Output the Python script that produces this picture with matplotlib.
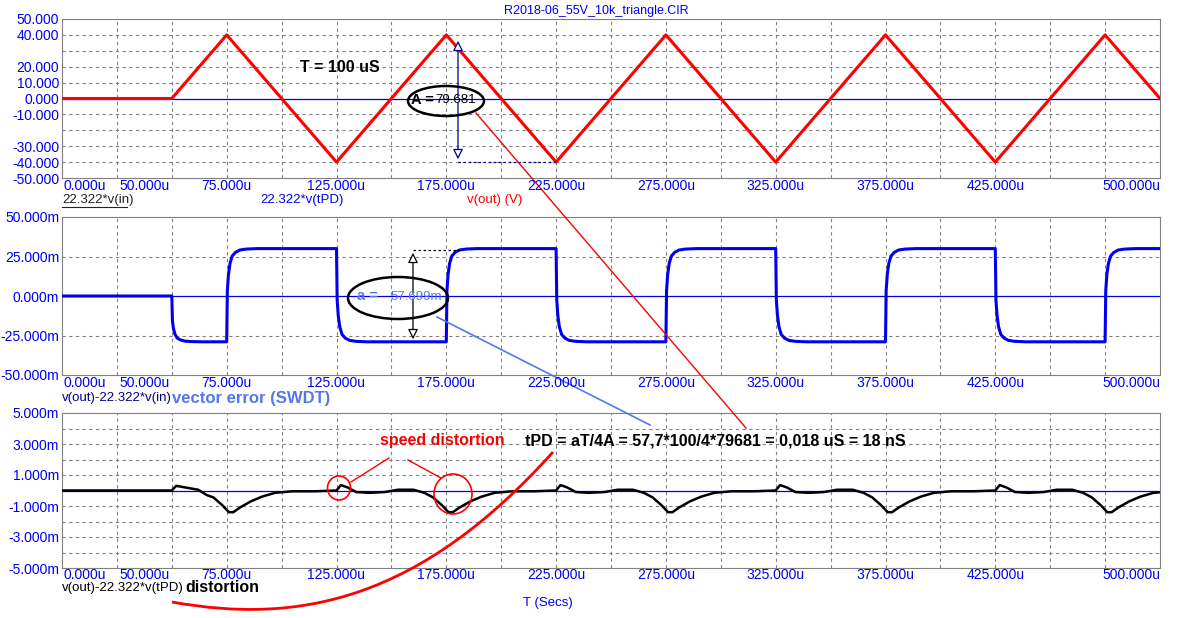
import matplotlib.pyplot as plt
import numpy as np
from matplotlib.patches import Ellipse, FancyArrowPatch, PathPatch
from matplotlib.path import Path

plt.rcParams["font.family"] = ["Liberation Sans", "DejaVu Sans"]

W, H = 1193, 618
BLUE = "#0000ee"
LBLUE = "#5577ee"

# time axis, microseconds
x_ticks = [0, 50, 75, 125, 175, 225, 275, 325, 375, 425, 500]
x_tick_labels = [f"{v:.3f}u" for v in x_ticks]

# triangle v(out): corner points
tri_t = [0, 50, 75, 125, 175, 225, 275, 325, 375, 425, 475, 500]
tri_v = [0, 0, 40, -40, 40, -40, 40, -40, 40, -40, 40, 0]

# vector error: edge times and settled levels (m)
err_edges = [50, 75, 125, 175, 225, 275, 325, 375, 425, 475]
err_levels = [-29, 30, -29, 30, -29, 30, -29, 30, -29, 30]
# settling shape after each edge (offset us, fraction of step)
settle_dt = [0, 0.3, 0.8, 1.5, 2.5, 4, 6, 9, 14]
settle_frac = [0, 0.55, 0.72, 0.84, 0.92, 0.96, 0.985, 0.995, 1.0]

# distortion (m): start of ramp, then one period template from each falling corner
dist_head_t = [0, 50, 52, 56, 62, 66]
dist_head_v = [0, 0, 0.3, 0.2, 0.05, -0.3]
dist_dt = [0, 2, 5, 9, 15, 22, 28, 35, 40, 44, 48, 51, 53, 56, 61, 66, 72, 80, 90, 100]
dist_v = [0, 0.35, 0.2, -0.1, -0.15, -0.1, 0.05, 0.05, -0.15, -0.45, -0.95, -1.4, -1.4, -1.1, -0.7, -0.4, -0.15, -0.05, -0.05, 0]
dist_starts = [25, 125, 225, 325, 425]


def make_axes(top, bottom):
    l, r = 62, 1160
    return fig.add_axes([l / W, 1 - bottom / H, (r - l) / W, (bottom - top) / H])


def style(ax, ylim, ygrid, yticks, ylabels, tick_y):
    ax.set_xlim(0, 500)
    ax.set_ylim(*ylim)
    for s in ax.spines.values():
        s.set_color("#808080")
    ax.set_xticks([])
    ax.set_yticks(yticks)
    ax.set_yticklabels(ylabels, color=BLUE, fontsize=10)
    ax.tick_params(axis="y", length=0, pad=2)
    for g in np.arange(25, 500, 25):
        ax.axvline(g, color="#808080", ls=(0, (3, 3)), lw=0.8, zorder=1)
    for g in ygrid:
        ax.axhline(g, color="#808080", ls=(0, (3, 3)), lw=0.8, zorder=1)
    ax.axhline(0, color=BLUE, lw=0.9, zorder=2)
    for v, lab in zip(x_ticks, x_tick_labels):
        xx = 62 + v * (1098 / 500)
        ha = "center"
        if v == 0:
            ha, xx = "left", xx + 2
        elif v == 50:
            ha, xx = "right", xx - 2
        elif v == 500:
            ha = "right"
        fig.text(xx / W, 1 - tick_y / H, lab, color=BLUE, fontsize=10, ha=ha, va="center")


fig = plt.figure(figsize=(W / 100, H / 100), dpi=100)

# top panel
ax1 = make_axes(19, 178)
style(ax1, (-50, 50), [50, 40, 30, 20, 10, -10, -20, -30, -40],
      [50, 40, 20, 10, 0, -10, -30, -40, -50],
      ["50.000", "40.000", "20.000", "10.000", "0.000", "-10.000", "-30.000", "-40.000", "-50.000"], 186)
ax1.plot(tri_t, tri_v, color="red", lw=2.2, zorder=3)

# middle panel
t_err = [0.0, 50.0]
v_err = [0.0, 0.0]
prev = 0.0
for i, t0 in enumerate(err_edges):
    t_end = err_edges[i + 1] if i + 1 < len(err_edges) else 500
    lvl = err_levels[i]
    for d, f in zip(settle_dt, settle_frac):
        t_err.append(t0 + d)
        v_err.append(prev + (lvl - prev) * f)
    t_err.append(t_end)
    v_err.append(lvl)
    prev = lvl
ax2 = make_axes(217, 375)
style(ax2, (-50, 50), [25, -25], [50, 25, 0, -25, -50],
      ["50.000m", "25.000m", "0.000m", "-25.000m", "-50.000m"], 383)
ax2.plot(t_err, v_err, color=BLUE, lw=2.2, zorder=3)

# bottom panel
tt, vv = list(dist_head_t), list(dist_head_v)
for s in dist_starts:
    for d, v in zip(dist_dt, dist_v):
        if s + d > dist_head_t[-1]:
            tt.append(s + d)
            vv.append(v)
ax3 = make_axes(413, 568)
style(ax3, (-5, 5), [4, 3, 2, 1, -1, -2, -3, -4], [5, 3, 1, -1, -3, -5],
      ["5.000m", "3.000m", "1.000m", "-1.000m", "-3.000m", "-5.000m"], 575)
ax3.plot(tt, vv, color="black", lw=1.8, zorder=3)

# overlay for annotations in pixel coordinates
ov = fig.add_axes([0, 0, 1, 1], facecolor="none")
ov.set_xlim(0, W)
ov.set_ylim(H, 0)
ov.axis("off")

ov.text(596, 11, "R2018-06_55V_10k_triangle.CIR", color=BLUE, fontsize=9, ha="center", va="center")
ov.text(300, 68, "T = 100 uS", fontsize=11.5, fontweight="bold", ha="left", va="center")

# A measurement
ov.add_patch(Ellipse((446, 101), 76, 30, fill=False, lw=1.8, color="black"))
ov.text(411, 100, "A =", fontsize=10.5, fontweight="bold", ha="left", va="center")
ov.text(435, 100, "79.681", fontsize=9.5, ha="left", va="center")
ov.add_patch(FancyArrowPatch((458, 100), (458, 38), arrowstyle="-|>,head_width=3,head_length=6",
                             color="#000088", lw=0.9, fc="white"))
ov.add_patch(FancyArrowPatch((458, 100), (458, 162), arrowstyle="-|>,head_width=3,head_length=6",
                             color="#000088", lw=0.9, fc="white"))
ov.plot([458, 555], [162, 162], color="#000088", lw=0.9, ls=(0, (2, 2)))
ov.plot([476, 746], [113, 428], color="red", lw=1)

# a measurement
ov.add_patch(Ellipse((398, 298), 100, 42, fill=False, lw=1.8, color="black"))
ov.text(357, 296, "a =", fontsize=10.5, fontweight="bold", color=LBLUE, ha="left", va="center")
ov.text(390, 297, "57.699m", fontsize=9.5, color=LBLUE, ha="left", va="center")
ov.add_patch(FancyArrowPatch((413, 296), (413, 250), arrowstyle="-|>,head_width=3,head_length=6",
                             color="black", lw=0.9, fc="white"))
ov.add_patch(FancyArrowPatch((413, 296), (413, 342), arrowstyle="-|>,head_width=3,head_length=6",
                             color="black", lw=0.9, fc="white"))
ov.plot([413, 460], [250, 250], color="black", lw=0.9, ls=(0, (2, 2)))
ov.plot([437, 650], [317, 425], color=LBLUE, lw=1.2)

# panel labels
ov.text(62, 200, "22.322*v(in)", fontsize=9.5, ha="left", va="center", color="#222222")
ov.plot([62, 127], [207, 207], color="#222222", lw=0.8)
ov.text(260, 200, "22.322*v(tPD)", fontsize=9.5, color=BLUE, ha="left", va="center")
ov.text(467, 200, "v(out) (V)", fontsize=9.5, color="red", ha="left", va="center")
ov.text(62, 398, "v(out)-22.322*v(in)", fontsize=9.5, color="#000088", ha="left", va="center")
ov.text(172, 398, "vector error (SWDT)", fontsize=12, fontweight="bold", color=LBLUE, ha="left", va="center")
ov.text(62, 588, "v(out)-22.322*v(tPD)", fontsize=9.5, color="black", ha="left", va="center")
ov.text(185, 588, "distortion", fontsize=11.5, fontweight="bold", ha="left", va="center")
ov.text(548, 603, "T (Secs)", fontsize=9.5, color=BLUE, ha="center", va="center")

# speed distortion marks
ov.text(380, 440, "speed distortion", fontsize=11.5, fontweight="bold", color="red", ha="left", va="center")
ov.text(525, 441, "tPD = aT/4A = 57,7*100/4*79681 = 0,018 uS = 18 nS", fontsize=11.5,
        fontweight="bold", ha="left", va="center")
ov.add_patch(Ellipse((339, 488), 23, 24, fill=False, lw=1.2, color="red"))
ov.add_patch(Ellipse((453, 494), 38, 40, fill=False, lw=1.2, color="red"))
ov.plot([389, 351], [458, 482], color="red", lw=1)
ov.plot([408, 441], [460, 478], color="red", lw=1)
curve = Path([(172, 602), (300, 625), (420, 600), (553, 452)],
             [Path.MOVETO, Path.CURVE4, Path.CURVE4, Path.CURVE4])
ov.add_patch(PathPatch(curve, fill=False, color="red", lw=2))

fig.savefig("out.png", dpi=100)
